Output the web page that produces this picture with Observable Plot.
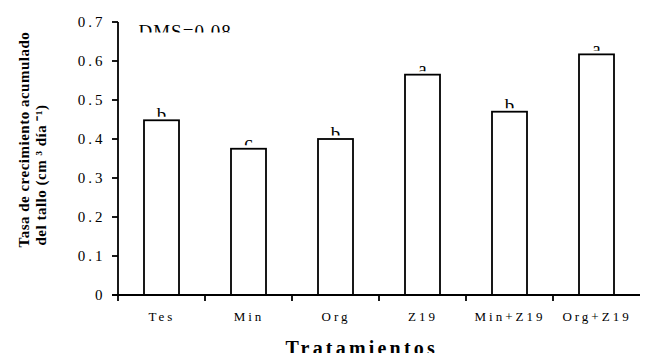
<!DOCTYPE html>
<html><head><meta charset="utf-8">
<script src="https://cdn.jsdelivr.net/npm/d3@7"></script>
<script src="https://cdn.jsdelivr.net/npm/@observablehq/plot@0.6"></script>
<style>body{margin:0;background:#fff}</style>
</head><body><div id="chart"></div>
<script>
const tratamientos = ["Tes", "Min", "Org", "Z19", "Min+Z19", "Org+Z19"];
const tasa = [0.448, 0.375, 0.400, 0.565, 0.470, 0.617];
const letras = ["b", "c", "b", "a", "b", "a"];
const yTicks = [0, 0.1, 0.2, 0.3, 0.4, 0.5, 0.6, 0.7];
const yTickLabels = ["0", "0.1", "0.2", "0.3", "0.4", "0.5", "0.6", "0.7"];
const yTitle1 = "Tasa de crecimiento acumulado";
const yTitle2 = "del tallo (cm ³ día ⁻¹)";
const xTitle = "Tratamientos";
const nota = "DMS=0.08";

const datos = tratamientos.map((t, i) => ({t, v: tasa[i], l: letras[i]}));
const yt = yTicks.map((v, i) => ({v, s: yTickLabels[i]}));
const serif = "Liberation Serif";

function ejes(index, scales, values, dims) {
  const {x, y} = scales;
  const x0 = dims.marginLeft, x1 = dims.width - dims.marginRight, y0 = y(0);
  const g = d3.create("svg:g").attr("stroke", "black").attr("stroke-width", 1.8).attr("fill", "none");
  g.append("line").attr("x1", x0).attr("x2", x0).attr("y1", y(d3.max(yTicks))).attr("y2", y0);
  g.append("line").attr("x1", x0 - 6).attr("x2", x1).attr("y1", y0).attr("y2", y0);
  for (const t of yTicks) g.append("line").attr("x1", x0 - 6).attr("x2", x0).attr("y1", y(t)).attr("y2", y(t));
  for (const c of tratamientos) g.append("line").attr("x1", x(c)).attr("x2", x(c)).attr("y1", y0).attr("y2", y0 + 6);
  return g.node();
}

const chart = Plot.plot({
  width: 645,
  height: 353,
  marginLeft: 118,
  marginRight: 5,
  marginTop: 22,
  marginBottom: 58,
  style: {fontFamily: serif, background: "white", overflow: "hidden", color: "black"},
  x: {domain: tratamientos, padding: 0, axis: null},
  y: {domain: [0, 0.7], axis: null},
  marks: [
    Plot.barY(datos, {x: "t", y: "v", fill: "white", stroke: "black", strokeWidth: 1.8, insetLeft: 26, insetRight: 26}),
    ejes,
    Plot.text(datos, {x: "t", y: "v", text: "l", fontSize: 19, fontFamily: serif, lineAnchor: "bottom", textAnchor: "middle"}),
    Plot.text(yt, {y: "v", text: "s", frameAnchor: "left", textAnchor: "end", dx: -13, fontSize: 15, fontFamily: serif}),
    Plot.text(tratamientos, {x: d => d, text: d => d, frameAnchor: "bottom", lineAnchor: "bottom", dy: 25, fontSize: 13, fontFamily: serif}),
    Plot.text([nota], {text: d => d, frameAnchor: "top-left", textAnchor: "start", lineAnchor: "bottom", dx: 20, dy: 15.5, fontSize: 19, fontFamily: serif}),
    Plot.text([xTitle], {text: d => d, frameAnchor: "bottom-left", textAnchor: "start", lineAnchor: "bottom", dx: 167, dy: 59, fontSize: 20, fontWeight: "bold", fontFamily: serif}),
    Plot.text([yTitle1], {text: d => d, frameAnchor: "bottom-left", textAnchor: "start", lineAnchor: "bottom", rotate: -90, dx: -90, dy: -48, fontSize: 15, fontWeight: "bold", fontFamily: serif}),
    Plot.text([yTitle2], {text: d => d, frameAnchor: "bottom-left", textAnchor: "start", lineAnchor: "bottom", rotate: -90, dx: -73, dy: -50, fontSize: 15, fontWeight: "bold", fontFamily: serif})
  ]
});

d3.select(chart).selectAll("text").each(function() {
  const s = this.textContent, t = d3.select(this);
  if (letras.includes(s)) t.style("clip-path", "inset(-5px -5px 8px -5px)").style("letter-spacing", "1px");
  else if (s === nota) t.style("clip-path", "inset(-5px -5px 9.5px -5px)").style("letter-spacing", "1px");
  else if (yTickLabels.includes(s)) t.style("letter-spacing", "3px");
  else if (tratamientos.includes(s)) t.style("letter-spacing", "3px");
  else if (s === xTitle) t.style("letter-spacing", "3.2px");
  else if (s === yTitle1 || s === yTitle2) t.style("letter-spacing", "0.5px");
});
document.getElementById("chart").append(chart);
</script>
</body></html>
